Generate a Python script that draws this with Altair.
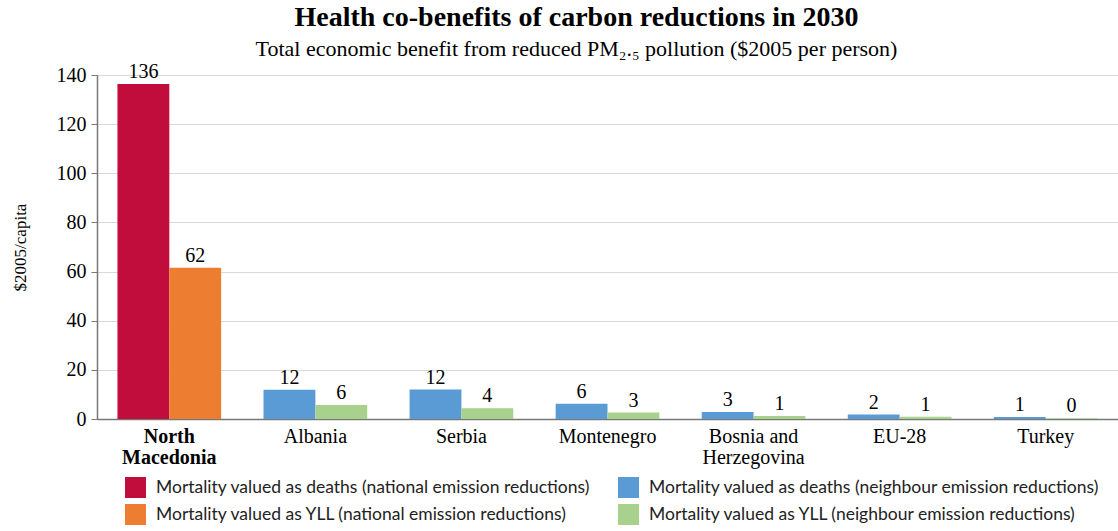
import altair as alt
import pandas as pd

categories = ["North Macedonia", "Albania", "Serbia", "Montenegro",
              "Bosnia and Herzegovina", "EU-28", "Turkey"]
deaths = [136.3, 11.9, 12.0, 6.2, 2.8, 1.8, 0.8]
yll = [61.6, 5.7, 4.4, 2.6, 1.2, 0.9, 0.3]

series = [
    "Mortality valued as deaths (national emission reductions)",
    "Mortality valued as YLL (national emission reductions)",
    "Mortality valued as deaths (neighbour emission reductions)",
    "Mortality valued as YLL (neighbour emission reductions)",
]
colors = ["#C00D3B", "#ED7D31", "#5B9BD5", "#A9D18E"]

rows = []
for c, d, y in zip(categories, deaths, yll):
    nat = c == "North Macedonia"
    rows.append({"category": c, "slot": 0, "value": d,
                 "series": series[0] if nat else series[2]})
    rows.append({"category": c, "slot": 1, "value": y,
                 "series": series[1] if nat else series[3]})
df = pd.DataFrame(rows)

serif = "Liberation Serif"
sans = "Lato"

x_enc = alt.X("category:N", sort=categories, title=None,
              scale=alt.Scale(paddingInner=0.29, paddingOuter=0.14),
              axis=alt.Axis(
                  labelAngle=0, labelFont=serif, labelFontSize=20, labelColor="#000",
                  labelPadding=7, ticks=False, domainColor="#777", domainWidth=1.5,
                  labelLineHeight=21,
                  labelFontWeight=alt.condition("datum.value == 'North Macedonia'",
                                                alt.value("bold"), alt.value("normal")),
                  labelExpr="datum.value == 'North Macedonia' ? ['North', 'Macedonia'] : "
                            "datum.value == 'Bosnia and Herzegovina' ? ['Bosnia and', 'Herzegovina'] : datum.value"))
xo_enc = alt.XOffset("slot:O", scale=alt.Scale(paddingInner=0, paddingOuter=0))
y_enc = alt.Y("value:Q", title="$2005/capita",
              scale=alt.Scale(domain=[0, 140], nice=False),
              axis=alt.Axis(values=list(range(0, 141, 20)), labelFont=serif, labelFontSize=20,
                            labelColor="#000", titleFont=serif, titleFontSize=17,
                            titleFontWeight="normal", titleColor="#000", titlePadding=27,
                            gridColor="#D9D9D9", domainColor="#777", domainWidth=1.5,
                            tickColor="#777", tickSize=6, labelPadding=5))

bars = alt.Chart(df).mark_bar().encode(
    x=x_enc, xOffset=xo_enc, y=y_enc,
    color=alt.Color("series:N", scale=alt.Scale(domain=series, range=colors),
                    legend=alt.Legend(title=None, orient="none", legendX=28, legendY=402,
                                      columns=2, symbolType="square", symbolSize=441,
                                      symbolStrokeWidth=0, labelFont=sans, labelFontSize=17.5,
                                      labelColor="#222", rowPadding=6, columnPadding=27,
                                      labelOffset=10, labelLimit=600))
)

labels = alt.Chart(df).mark_text(baseline="bottom", dy=-2, font=serif, fontSize=20,
                                 color="#000").encode(
    x=alt.X("category:N", sort=categories), xOffset="slot:O", y="value:Q",
    text=alt.Text("value:Q", format=".0f"))

chart = alt.layer(bars, labels).properties(
    width=1021, height=344,
    autosize=alt.AutoSizeParams(type="none"),
    padding={"left": 97, "top": 75, "right": 0, "bottom": 112},
    title=alt.Title(
        "Health co-benefits of carbon reductions in 2030",
        subtitle="Total economic benefit from reduced PM₂.₅ pollution ($2005 per person)",
        font=serif, fontSize=28, fontWeight="bold", color="#000",
        subtitleFont=serif, subtitleFontSize=22, subtitleColor="#000",
        anchor="middle", dx=-31, offset=2, subtitlePadding=7)
).configure_view(stroke=None)

chart.save("out.html", embed_options={"renderer": "svg", "actions": False})
